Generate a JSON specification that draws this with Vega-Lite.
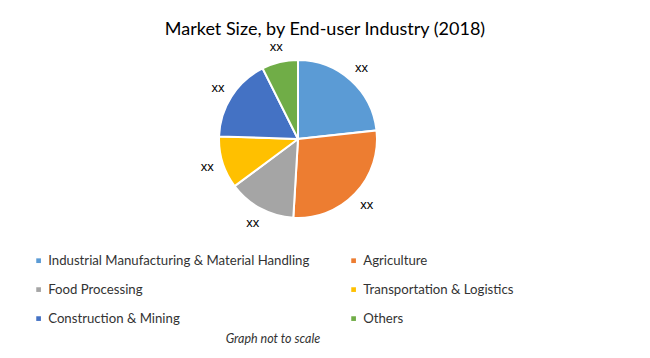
{
  "$schema": "https://vega.github.io/schema/vega-lite/v6.json",
  "width": 556,
  "height": 202,
  "autosize": {"type": "none"},
  "padding": {"left": 20, "top": 38, "right": 74, "bottom": 118},
  "background": "white",
  "config": {"view": {"stroke": null}},
  "title": {
    "text": "Market Size, by End-user Industry (2018)",
    "font": "Lato",
    "fontSize": 18,
    "fontWeight": "normal",
    "color": "#000000",
    "dx": 27,
    "offset": -1
  },
  "data": {
    "values": [
      {"industry": "Industrial Manufacturing & Material Handling", "value": 23.3, "idx": 1, "label": "xx"},
      {"industry": "Agriculture", "value": 27.7, "idx": 2, "label": "xx"},
      {"industry": "Food Processing", "value": 13.9, "idx": 3, "label": "xx"},
      {"industry": "Transportation & Logistics", "value": 10.7, "idx": 4, "label": "xx"},
      {"industry": "Construction & Mining", "value": 17.1, "idx": 5, "label": "xx"},
      {"industry": "Others", "value": 7.4, "idx": 6, "label": "xx"}
    ]
  },
  "layer": [
    {
      "mark": {"type": "arc", "outerRadius": 79, "stroke": "white", "strokeWidth": 2},
      "encoding": {
        "theta": {"field": "value", "type": "quantitative", "stack": true},
        "order": {"field": "idx", "type": "quantitative"},
        "color": {
          "field": "industry",
          "type": "nominal",
          "sort": ["Industrial Manufacturing & Material Handling", "Agriculture", "Food Processing", "Transportation & Logistics", "Construction & Mining", "Others"],
          "scale": {
            "domain": ["Industrial Manufacturing & Material Handling", "Agriculture", "Food Processing", "Transportation & Logistics", "Construction & Mining", "Others"],
            "range": ["#5B9BD5", "#ED7D31", "#A5A5A5", "#FFC000", "#4472C4", "#70AD47"]
          },
          "legend": {
            "orient": "none",
            "direction": "horizontal",
            "legendX": 12,
            "legendY": 216,
            "columns": 2,
            "columnPadding": 37,
            "rowPadding": 15,
            "symbolType": "square",
            "symbolSize": 22,
            "symbolStrokeWidth": 0,
            "labelFont": "Lato",
            "labelFontSize": 13.2,
            "labelColor": "#333333",
            "labelLimit": 0,
            "labelOffset": 3,
            "title": "Graph not to scale",
            "titleOrient": "bottom",
            "titleAnchor": "middle",
            "titleFont": "Lato",
            "titleFontSize": 12.5,
            "titleFontStyle": "italic",
            "titleFontWeight": "normal",
            "titleColor": "#333333",
            "titlePadding": 8
          }
        }
      }
    },
    {
      "mark": {"type": "text", "radius": 95, "font": "Liberation Sans", "fontSize": 13, "color": "#000000"},
      "encoding": {
        "theta": {"field": "value", "type": "quantitative", "stack": true},
        "order": {"field": "idx", "type": "quantitative"},
        "detail": {"field": "industry", "type": "nominal"},
        "text": {"field": "label", "type": "nominal"}
      }
    }
  ]
}
